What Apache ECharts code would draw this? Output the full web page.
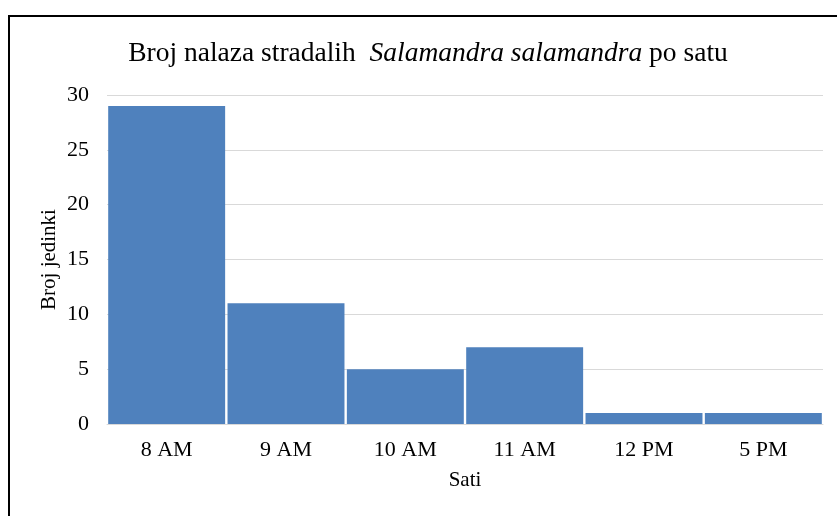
<!DOCTYPE html>
<html>
<head>
<meta charset="utf-8">
<script src="https://cdn.jsdelivr.net/npm/echarts@6/dist/echarts.min.js"></script>
<style>
  html, body { margin: 0; padding: 0; background: #fff; }
  #chart { width: 837px; height: 516px; }
</style>
</head>
<body>
<div id="chart"></div>
<script>
const hours = ['8 AM', '9 AM', '10 AM', '11 AM', '12 PM', '5 PM']
const counts = [29, 11, 5, 7, 1, 1]
const yTicks = { min: 0, max: 30, step: 5 }

const serif = '"Liberation Serif", "DejaVu Serif", serif'

const myChart = echarts.init(document.getElementById('chart'))
const option = {
    animation: false,
    backgroundColor: '#fff',
    title: {
        text: '{n|Broj nalaza stradalih  }{i|Salamandra salamandra}{n| po satu}',
        left: 423,
        textAlign: 'center',
        top: 35,
        textStyle: {
            fontWeight: 'normal',
            rich: {
                n: { fontFamily: serif, fontSize: 27.5, color: '#000', fontWeight: 'normal' },
                i: { fontFamily: serif, fontSize: 27.5, color: '#000', fontWeight: 'normal', fontStyle: 'italic' }
            }
        }
    },
    graphic: [{
        type: 'rect',
        shape: { x: 9, y: 16, width: 900, height: 600 },
        style: { fill: 'none', stroke: '#000', lineWidth: 2 },
        silent: true
    }],
    grid: { left: 107, right: 14, top: 95, bottom: 92 },
    xAxis: {
        type: 'category',
        data: hours,
        name: 'Sati',
        nameLocation: 'middle',
        nameGap: 46,
        nameMoveOverlap: false,
        nameTextStyle: { fontFamily: serif, fontSize: 21, color: '#000' },
        axisLine: { lineStyle: { color: '#d9d9d9', width: 1 } },
        axisTick: { show: false },
        axisLabel: { fontFamily: serif, fontSize: 22, color: '#000', margin: 15 }
    },
    yAxis: {
        type: 'value',
        min: yTicks.min,
        max: yTicks.max,
        interval: yTicks.step,
        name: 'Broj jedinki',
        nameLocation: 'middle',
        nameGap: 47,
        nameMoveOverlap: false,
        nameTextStyle: { fontFamily: serif, fontSize: 21, color: '#000' },
        axisLine: { show: false },
        axisTick: { show: false },
        axisLabel: { fontFamily: serif, fontSize: 22, color: '#000', margin: 18 },
        splitLine: { lineStyle: { color: '#d9d9d9', width: 1 } }
    },
    series: [{
        type: 'bar',
        data: counts,
        barCategoryGap: '2%',
        itemStyle: { color: '#4f81bd' }
    }]
}
myChart.setOption(option)
</script>
</body>
</html>
